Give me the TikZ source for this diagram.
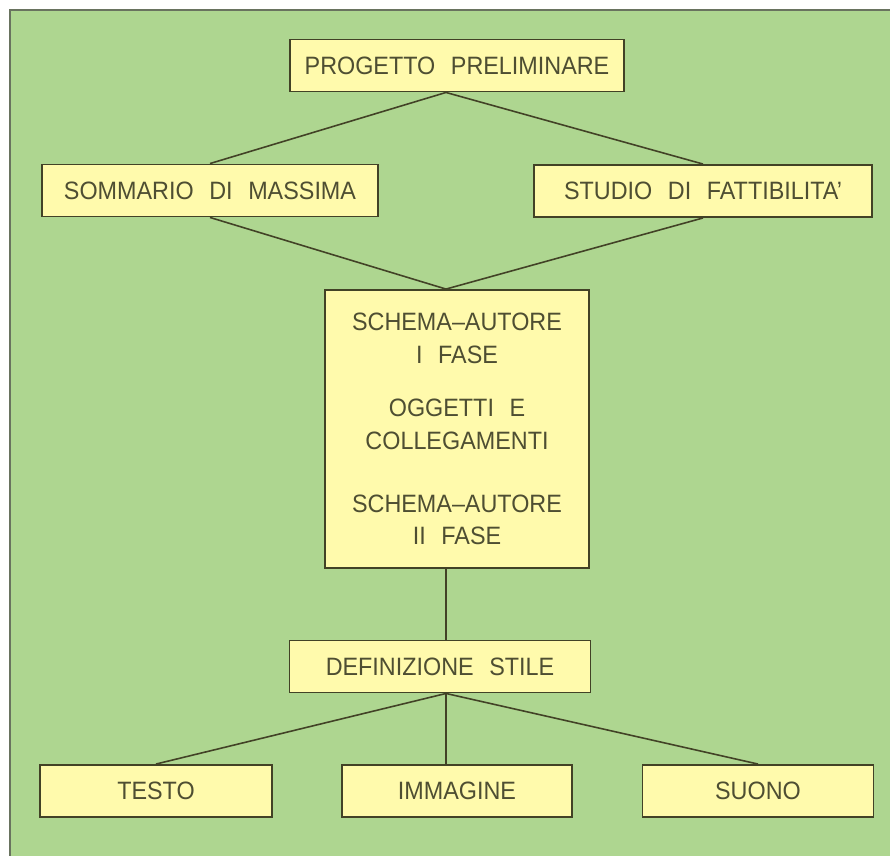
\documentclass[tikz,border=0pt]{standalone}
\usepackage{fontspec}
\setmainfont[FakeStretch=0.93]{Liberation Sans}
\usepackage{tikz}
\usetikzlibrary{calc}

\definecolor{fondo}{RGB}{174,214,144}
\definecolor{cornice}{RGB}{105,115,95}
\definecolor{riempi}{RGB}{255,250,172}
\definecolor{tratto}{RGB}{66,66,38}
\definecolor{scritta}{RGB}{78,78,50}

\newcommand{\spaziatura}{\fontsize{14.3}{18.4}\selectfont\spaceskip=0.62em plus 0.1em\relax}

\tikzset{
	box/.style={draw=tratto, line width=1.1pt, fill=riempi, text=scritta,
		minimum height=1.04cm, inner sep=0pt, font=\spaziatura},
	link/.style={draw=tratto, line width=0.9pt}
}

\begin{document}
\begin{tikzpicture}[x=0.02cm, y=-0.02cm]
		\useasboundingbox (0,0) rectangle (890,856);
		\fill[white] (0,0) rectangle (890,856);
		\fill[fondo] (10,10) rectangle (890,856);
		\draw[cornice, line width=1.4pt] (10,856) -- (10,10) -- (890,10);

		\coordinate (asse) at (446,0);

		\node[box, minimum width=6.68cm] (prog) at (457,65.5) {PROGETTO PRELIMINARE};
		\node[box, minimum width=6.72cm] (somm) at (210,190.5) {SOMMARIO DI MASSIMA};
		\node[box, minimum width=6.76cm] (stud) at (703,191) {STUDIO DI FATTIBILITA'};
		\node[box, minimum width=5.28cm, minimum height=5.56cm, align=center] (schema) at (457,429)
			{SCHEMA--AUTORE\\I FASE\\[0.43cm]OGGETTI E\\COLLEGAMENTI\\[0.61cm]SCHEMA--AUTORE\\II FASE};
		\node[box, minimum width=6.02cm] (stile) at (440,666.5) {DEFINIZIONE STILE};
		\node[box, minimum width=4.64cm] (testo) at (156,791) {TESTO};
		\node[box, minimum width=4.60cm] (immag) at (457,791) {IMMAGINE};
		\node[box, minimum width=4.62cm] (suono) at (758,791) {SUONO};

		\draw[link] (somm.north) -- (prog.south -| asse) -- (stud.north);
		\draw[link] (somm.south) -- (schema.north -| asse) -- (stud.south);
		\draw[link] (schema.south -| asse) -- (stile.north -| asse);
		\draw[link] (testo.north) -- (stile.south -| asse) -- (suono.north);
		\draw[link] (stile.south -| asse) -- (immag.north -| asse);

	\end{tikzpicture}
\end{document}
